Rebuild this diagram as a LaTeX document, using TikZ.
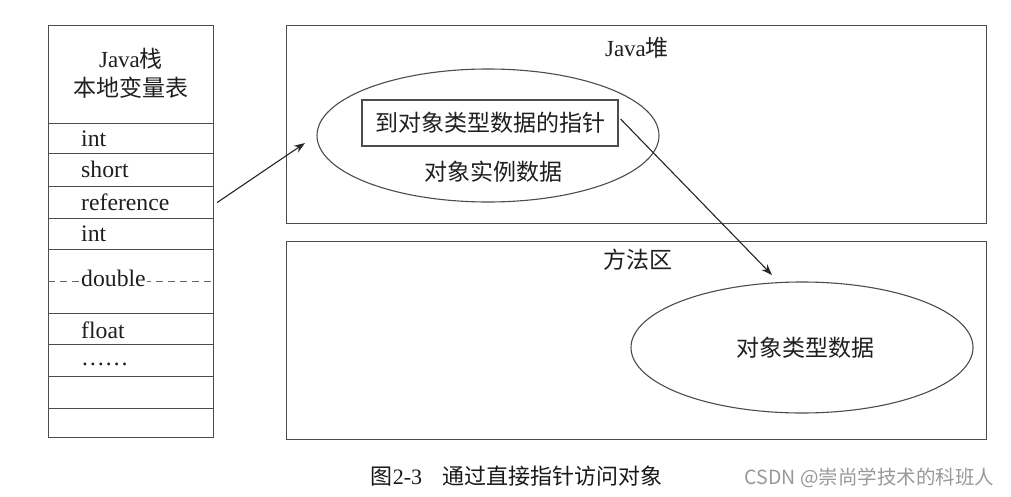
\documentclass[tikz,border=0pt]{standalone}
\usepackage{fontspec}
\setmainfont{Liberation Serif}
\newfontfamily\cjk{Noto Sans CJK SC}
\usetikzlibrary{shapes.geometric,arrows.meta}
\newcommand\zh[1]{{\cjk #1}}
\tikzset{
  ln/.style={draw=black!70, line width=1.1pt},
  cell/.style={ln, rectangle, anchor=north west, minimum width=165pt, inner sep=0pt},
  lbl/.style={anchor=base west, inner sep=0pt, font=\fontsize{23.7pt}{26pt}\selectfont, text=black!88},
  ctr/.style={inner sep=0pt, font=\fontsize{23pt}{26pt}\selectfont, text=black!88},
  area/.style={ln, rectangle, anchor=north west, inner sep=0pt},
  ell/.style={ln, ellipse, inner sep=0pt},
  arr/.style={draw=black!85, line width=1.1pt, -{Stealth[length=11pt,width=8pt]}}
}
\begin{document}
\begin{tikzpicture}[x=1pt,y=-1pt]
\useasboundingbox[fill=white] (0,0) rectangle (1011,497);
% left table
\node[cell, minimum height=98pt] (head) at (48,25) {};
\node[cell, minimum height=30pt] (r1) at (48,123) {};
\node[cell, minimum height=33pt] (r2) at (48,153) {};
\node[cell, minimum height=32pt] (r3) at (48,186) {};
\node[cell, minimum height=31pt] (r4) at (48,218) {};
\node[cell, minimum height=64pt] (r5) at (48,249) {};
\node[cell, minimum height=31pt] (r6) at (48,313) {};
\node[cell, minimum height=32pt] (r7) at (48,344) {};
\node[cell, minimum height=32pt] (r8) at (48,376) {};
\node[cell, minimum height=29pt] (r9) at (48,408) {};
\draw[draw=black!60, line width=1pt, dash pattern=on 7pt off 5pt] (r5.west) ++(0,-0.5) coordinate (dl) -- (r5.east |- dl);
\node[ctr] (t1) at (131,59) {Java\zh{栈}};
\node[ctr] (t2) at (131,88) {\zh{本地变量表}};
\node[lbl] (l1) at (81,146.5) {int};
\node[lbl] (l2) at (81,178) {short};
\node[lbl] (l3) at (81,210.5) {reference};
\node[lbl] (l4) at (81,241.5) {int};
\node[lbl, fill=white, inner xsep=1pt] (l5) at (80,286.5) {double};
\node[lbl] (l6) at (81,338) {float};
\node[lbl] (l7) at (81,365) {……};
% heap
\node[area, minimum width=700pt, minimum height=198pt] (heap) at (286,25) {};
\node[ctr] (heapt) at (637,48) {Java\zh{堆}};
\node[ell, minimum width=342pt, minimum height=133pt] (obj) at (488,135.5) {};
\node[ln, rectangle, minimum width=256pt, minimum height=46pt, inner sep=0pt, font=\fontsize{23pt}{26pt}\selectfont, text=black!88] (ptr) at (490,123) {\zh{到对象类型数据的指针}};
\node[ctr] (inst) at (493,172) {\zh{对象实例数据}};
% method area
\node[area, minimum width=700pt, minimum height=198pt] (meth) at (286,241) {};
\node[ctr] (metht) at (638,260) {\zh{方法区}};
\node[ell, minimum width=342pt, minimum height=131pt] (type) at (802,347.5) {};
\node[ctr] (typet) at (805,348) {\zh{对象类型数据}};
% arrows
\coordinate (a1e) at (305,143);
\coordinate (a2e) at (772,275);
\draw[arr] ([xshift=3pt]r3.east) -- (a1e);
\draw[arr] ([xshift=2pt,yshift=4pt]ptr.east) -- (a2e);
% caption
\node[inner sep=0pt, font=\fontsize{22pt}{24pt}\selectfont, text=black!90] (cap) at (516.5,476) {\zh{图}2-3\hspace{20pt}\zh{通过直接指针访问对象}};
\node[inner sep=0pt, font=\cjk\fontsize{19.5pt}{22pt}\selectfont, text=black!40] (wm) at (869.5,478) {CSDN @崇尚学技术的科班人};
\end{tikzpicture}
\end{document}
